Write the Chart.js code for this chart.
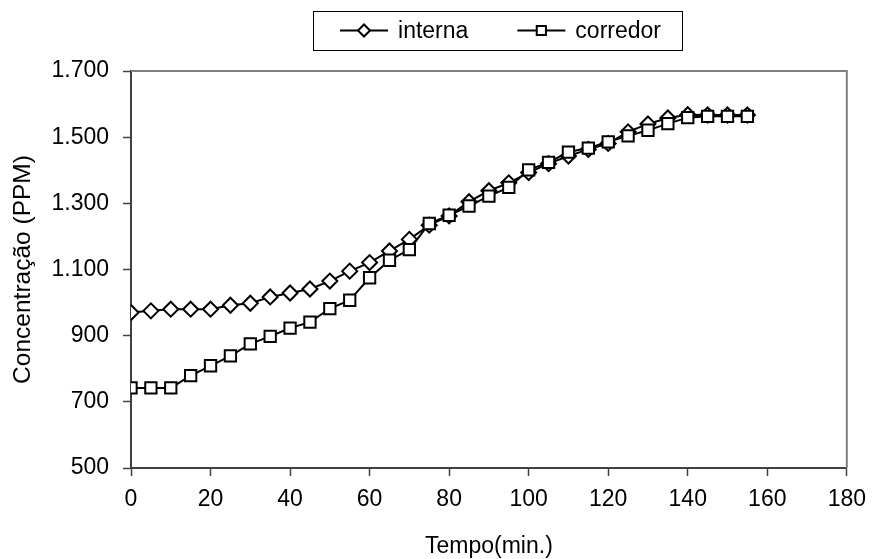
<!DOCTYPE html>
<html lang="pt">

<head>
    <meta charset="UTF-8">
    <title>Concentração</title>
    <script src="https://cdn.jsdelivr.net/npm/chart.js"></script>

    <style>
        body {
            margin: 0;
            background-color: #ffffff;
        }

        .chart-box {
            width: 876px;
            height: 559px;
        }
    </style>
</head>

<body>
    <div class="chart-box">
        <canvas id="grafico" width="876" height="559"></canvas>
    </div>

    <script>
        // dados
        const tempo = [0, 5, 10, 15, 20, 25, 30, 35, 40, 45, 50, 55, 60, 65, 70, 75,
            80, 85, 90, 95, 100, 105, 110, 115, 120, 125, 130, 135, 140, 145, 150, 155];
        const interna = [970, 975, 980, 980, 980, 992, 998, 1017, 1029, 1041, 1065, 1095, 1121, 1156, 1191, 1234,
            1262, 1305, 1338, 1362, 1393, 1420, 1443, 1463, 1481, 1516, 1540, 1558, 1568, 1567, 1567, 1567];
        const corredor = [742, 742, 742, 779, 809, 839, 875, 898, 923, 941, 982, 1007, 1075, 1128, 1160, 1239,
            1264, 1292, 1322, 1348, 1401, 1424, 1455, 1467, 1486, 1504, 1521, 1541, 1559, 1563, 1563, 1563];
        const xTicks = [0, 20, 40, 60, 80, 100, 120, 140, 160, 180];
        const yTicks = [500, 700, 900, 1100, 1300, 1500, 1700];

        const fonte = "'Liberation Sans', Arial, sans-serif";
        const corEixo = '#404040';

        // 1.700 em vez de 1700
        function formatar(v) {
            if (v < 1000) return String(v);
            return Math.floor(v / 1000) + '.' + String(v % 1000).padStart(3, '0');
        }

        function pontos(ys) {
            return tempo.map((t, i) => ({ x: t, y: ys[i] }));
        }

        // borda cinza em cima e à direita da área do gráfico
        const moldura = {
            id: 'moldura',
            beforeDatasetsDraw(chart) {
                const { ctx, chartArea: a } = chart;
                ctx.save();
                ctx.strokeStyle = '#808080';
                ctx.lineWidth = 2;
                ctx.beginPath();
                ctx.moveTo(a.left, a.top);
                ctx.lineTo(a.right, a.top);
                ctx.lineTo(a.right, a.bottom);
                ctx.stroke();
                ctx.restore();
            }
        };

        // legenda com linha + marcador, dentro de uma caixa
        const legenda = {
            id: 'legenda',
            afterDraw(chart) {
                const ctx = chart.ctx;
                const caixa = { x: 313, y: 11, w: 369, h: 39 };
                const linha = 48, gapTexto = 10, gapItem = 49;
                ctx.save();
                ctx.font = '23px ' + fonte;
                const itens = chart.data.datasets.map(ds => ({ ds, w: ctx.measureText(ds.label).width }));
                const total = itens.reduce((s, it) => s + linha + gapTexto + it.w, 0) + gapItem * (itens.length - 1);
                let x = caixa.x + (caixa.w - total) / 2 + 3;
                const y = caixa.y + caixa.h / 2;

                ctx.strokeStyle = '#000';
                ctx.lineWidth = 1;
                ctx.strokeRect(caixa.x + 0.5, caixa.y + 0.5, caixa.w, caixa.h);

                itens.forEach(it => {
                    const ds = it.ds;
                    ctx.strokeStyle = '#000';
                    ctx.lineWidth = 2;
                    ctx.beginPath();
                    ctx.moveTo(x, y);
                    ctx.lineTo(x + linha, y);
                    ctx.stroke();
                    ctx.fillStyle = '#fff';
                    ctx.lineWidth = ds.pointBorderWidth;
                    Chart.helpers.drawPoint(ctx, {
                        pointStyle: ds.pointStyle,
                        radius: ds.pointRadius - 1.5,
                        rotation: 0,
                        borderWidth: ds.pointBorderWidth
                    }, x + linha / 2, y);
                    ctx.fillStyle = '#000';
                    ctx.textBaseline = 'middle';
                    ctx.textAlign = 'left';
                    ctx.fillText(ds.label, x + linha + gapTexto, y + 1);
                    x += linha + gapTexto + it.w + gapItem;
                });
                ctx.restore();
            }
        };

        const ctx = document.getElementById('grafico').getContext('2d');
        const chart = new Chart(ctx, {
            type: 'line',
            data: {
                datasets: [
                    {
                        label: 'interna',
                        data: pontos(interna),
                        borderColor: '#000',
                        borderWidth: 2,
                        pointStyle: 'rectRot',
                        pointRadius: 7.5,
                        pointBackgroundColor: '#fff',
                        pointBorderColor: '#000',
                        pointBorderWidth: 2,
                        tension: 0,
                        order: 1
                    },
                    {
                        label: 'corredor',
                        data: pontos(corredor),
                        borderColor: '#000',
                        borderWidth: 2,
                        pointStyle: 'rect',
                        pointRadius: 8,
                        pointBackgroundColor: '#fff',
                        pointBorderColor: '#000',
                        pointBorderWidth: 2,
                        tension: 0,
                        order: 0
                    }
                ]
            },
            options: {
                responsive: false,
                animation: false,
                devicePixelRatio: 1,
                layout: {
                    padding: { top: 71, right: 24, left: 0, bottom: 0 }
                },
                plugins: {
                    legend: { display: false },
                    tooltip: { enabled: false }
                },
                scales: {
                    x: {
                        type: 'linear',
                        min: 0,
                        max: 180,
                        afterBuildTicks: s => { s.ticks = xTicks.map(v => ({ value: v })); },
                        afterFit: s => { s.height = 91; },
                        ticks: {
                            color: '#000',
                            font: { family: fonte, size: 23 },
                            padding: 10,
                            maxRotation: 0
                        },
                        grid: {
                            drawOnChartArea: false,
                            drawTicks: true,
                            tickLength: 8,
                            tickColor: corEixo,
                            tickWidth: 1.5
                        },
                        border: { color: corEixo, width: 2 },
                        title: {
                            display: true,
                            text: 'Tempo(min.)',
                            color: '#000',
                            font: { family: fonte, size: 23, lineHeight: 1.1 },
                            padding: { top: 0, bottom: 0 }
                        }
                    },
                    y: {
                        min: 500,
                        max: 1700,
                        afterBuildTicks: s => { s.ticks = yTicks.map(v => ({ value: v })); },
                        afterFit: s => { s.width = 131; },
                        ticks: {
                            color: '#000',
                            font: { family: fonte, size: 23 },
                            padding: 14,
                            callback: v => formatar(v)
                        },
                        grid: {
                            drawOnChartArea: false,
                            drawTicks: true,
                            tickLength: 8,
                            tickColor: corEixo,
                            tickWidth: 1.5
                        },
                        border: { color: corEixo, width: 2 },
                        title: {
                            display: true,
                            text: 'Concentração (PPM)',
                            color: '#000',
                            font: { family: fonte, size: 24.5 },
                            padding: { top: 9, bottom: 0 }
                        }
                    }
                }
            },
            plugins: [moldura, legenda]
        });
    </script>
</body>

</html>
